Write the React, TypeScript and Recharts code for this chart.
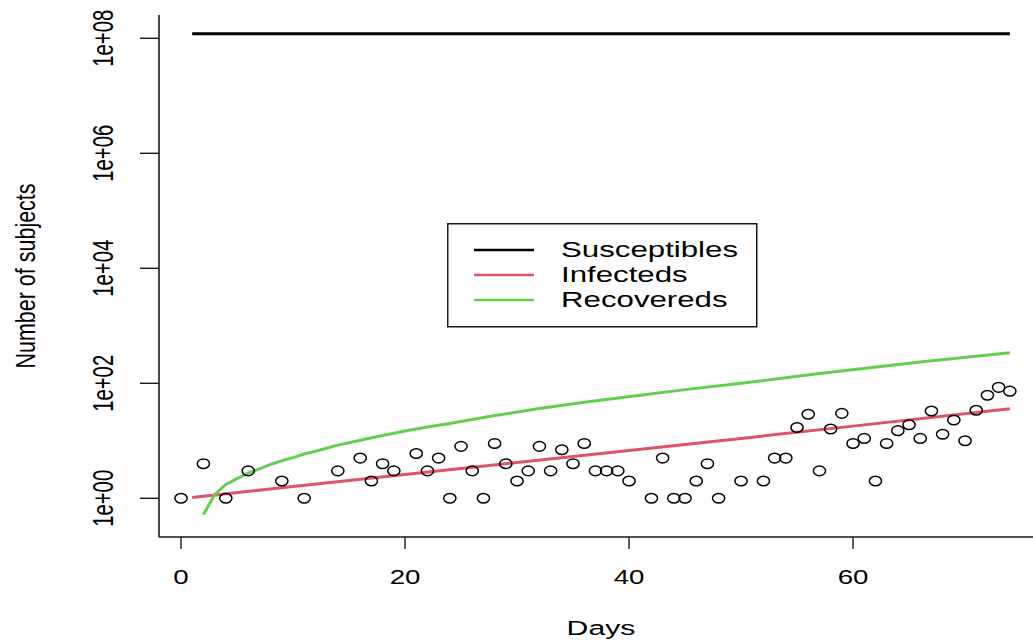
import React from 'react';
import {
  ComposedChart,
  Line,
  Scatter,
  XAxis,
  YAxis,
  Legend,
} from 'recharts';

// observed daily cases (days with zero cases are not drawn on the log axis)
const obsDays = [
  0, 2, 4, 6, 9, 11, 14, 16, 17, 18, 19, 21, 22, 23, 24, 25, 26, 27, 28, 29, 30, 31,
  32, 33, 34, 35, 36, 37, 38, 39, 40, 42, 43, 44, 45, 46, 47, 48, 50, 52, 53, 54, 55,
  56, 57, 58, 59, 60, 61, 62, 63, 64, 65, 66, 67, 68, 69, 70, 71, 72, 73, 74,
];
const obsCounts = [
  1, 4, 1, 3, 2, 1, 3, 5, 2, 4, 3, 6, 3, 5, 1, 8, 3, 1, 9, 4, 2, 3,
  8, 3, 7, 4, 9, 3, 3, 3, 2, 1, 5, 1, 1, 2, 4, 1, 2, 2, 5, 5, 17,
  29, 3, 16, 30, 9, 11, 2, 9, 15, 19, 11, 33, 13, 23, 10, 34, 62, 85, 73,
];

// fitted model curves
const susDays = [1, 25, 50, 74];
const susVals = [1.2e8, 1.2e8, 1.2e8, 1.2e8];

const infDays = [1, 10, 20, 30, 40, 50, 60, 74];
const infVals = [1.03, 1.6, 2.6, 4.2, 6.8, 11.0, 18, 36];

const recDays = [2, 3, 4, 5, 6, 7, 8, 9, 10, 11, 12, 14, 16, 18, 20, 22, 24, 28, 32, 36, 41, 45, 50, 57, 66, 74];
const recVals = [0.52, 1.16, 1.74, 2.2, 2.75, 3.25, 3.9, 4.5, 5.1, 5.9, 6.6, 8.4, 10.2, 12.4, 14.8, 17.4, 20, 27.5, 36.3, 46.8, 61.7, 77.6, 100, 148, 234, 339];

const xTicks = [0, 20, 40, 60];
const yTicks = [1, 1e2, 1e4, 1e6, 1e8];
const yTickLabels = ['1e+00', '1e+02', '1e+04', '1e+06', '1e+08'];

const legendLabels = ['Susceptibles', 'Infecteds', 'Recovereds'];
const legendColors = ['#000000', '#DF536B', '#61D04F'];

const toPoints = (days: number[], vals: number[]) => days.map((d, i) => ({ day: d, value: vals[i] }));

const observed = toPoints(obsDays, obsCounts);
const susceptibles = toPoints(susDays, susVals);
const infecteds = toPoints(infDays, infVals);
const recovereds = toPoints(recDays, recVals);

const FONT = '"Liberation Sans", Arial, sans-serif';
const AXIS = '#1a1a1a';

const YTick = (props: any) => {
  const { x, y, payload } = props;
  const idx = yTicks.indexOf(payload.value);
  return (
    <text
      transform={`translate(${x - 25}, ${y}) scale(1.45,1) rotate(-90)`}
      textAnchor="middle"
      fontFamily={FONT}
      fontSize={20.3}
      fill="#000"
    >
      {idx >= 0 ? yTickLabels[idx] : ''}
    </text>
  );
};

const XTick = (props: any) => {
  const { x, y, payload } = props;
  return (
    <text
      transform={`translate(${x}, ${y + 33}) scale(1.35,1)`}
      textAnchor="middle"
      fontFamily={FONT}
      fontSize={20.5}
      fill="#000"
    >
      {payload.value}
    </text>
  );
};

const Circle = (props: any) => {
  const { cx, cy } = props;
  if (cx == null || cy == null) return null;
  return <ellipse cx={cx} cy={cy} rx={6.1} ry={4.8} fill="none" stroke="#000" strokeWidth={1.5} />;
};

const renderLegend = () => (
  <svg width={311} height={105}>
    <rect x={0.75} y={0.75} width={309} height={103} fill="#fff" stroke={AXIS} strokeWidth={1.5} />
    {legendLabels.map((label, i) => {
      const y = 27 + i * 25;
      return (
        <g key={label}>
          <line x1={27} x2={87} y1={y} y2={y} stroke={legendColors[i]} strokeWidth={2.6} />
          <text
            transform={`translate(114, ${y}) scale(1.42,1)`}
            dominantBaseline="central"
            fontFamily={FONT}
            fontSize={22}
            fill="#000"
          >
            {label}
          </text>
        </g>
      );
    })}
  </svg>
);

export default function App() {
  return (
    <div style={{ width: 1033, height: 641, overflow: 'hidden', position: 'relative', background: '#fff' }}>
      <style>{'body{margin:0}'}</style>
      <ComposedChart width={1043} height={641} margin={{ top: 15, right: 0, bottom: 0, left: 0 }}>
        <XAxis
          dataKey="day"
          type="number"
          domain={[-1.964, 76.96]}
          ticks={xTicks}
          allowDataOverflow
          height={104}
          tickSize={12}
          tickLine={{ stroke: AXIS, strokeWidth: 1.4 }}
          axisLine={{ stroke: AXIS, strokeWidth: 1.6 }}
          tick={<XTick />}
          label={(p: any) => {
            const vb = p.viewBox || {};
            return (
              <text
                transform={`translate(${vb.x + vb.width / 2}, 635) scale(1.44,1)`}
                textAnchor="middle"
                fontFamily={FONT}
                fontSize={21}
                fill="#000"
              >
                Days
              </text>
            );
          }}
        />
        <XAxis
          xAxisId="top"
          orientation="top"
          dataKey="day"
          type="number"
          domain={[-1.964, 76.96]}
          allowDataOverflow
          height={0}
          tick={false}
          tickLine={false}
          axisLine={{ stroke: AXIS, strokeWidth: 1.6 }}
        />
        <YAxis
          dataKey="value"
          scale="log"
          type="number"
          domain={[0.2123, 2.541e8]}
          ticks={yTicks}
          allowDataOverflow
          width={159}
          tickSize={19}
          tickLine={{ stroke: AXIS, strokeWidth: 1.4 }}
          axisLine={{ stroke: AXIS, strokeWidth: 1.6 }}
          tick={<YTick />}
          label={(p: any) => {
            const vb = p.viewBox || {};
            return (
              <text
                transform={`translate(35, ${vb.y + vb.height / 2}) scale(1.3,1) rotate(-90)`}
                textAnchor="middle"
                fontFamily={FONT}
                fontSize={21.5}
                fill="#000"
              >
                Number of subjects
              </text>
            );
          }}
        />
        <Scatter data={observed} dataKey="value" shape={<Circle />} isAnimationActive={false} />
        <Line data={susceptibles} dataKey="value" type="linear" stroke={legendColors[0]} strokeWidth={3} dot={false} isAnimationActive={false} />
        <Line data={infecteds} dataKey="value" type="linear" stroke={legendColors[1]} strokeWidth={3} dot={false} isAnimationActive={false} />
        <Line data={recovereds} dataKey="value" type="linear" stroke={legendColors[2]} strokeWidth={3} dot={false} isAnimationActive={false} />
        <Legend
          layout="vertical"
          align="center"
          verticalAlign="middle"
          wrapperStyle={{ left: 447, top: 223, width: 311, height: 105 }}
          content={renderLegend}
        />
      </ComposedChart>
    </div>
  );
}
